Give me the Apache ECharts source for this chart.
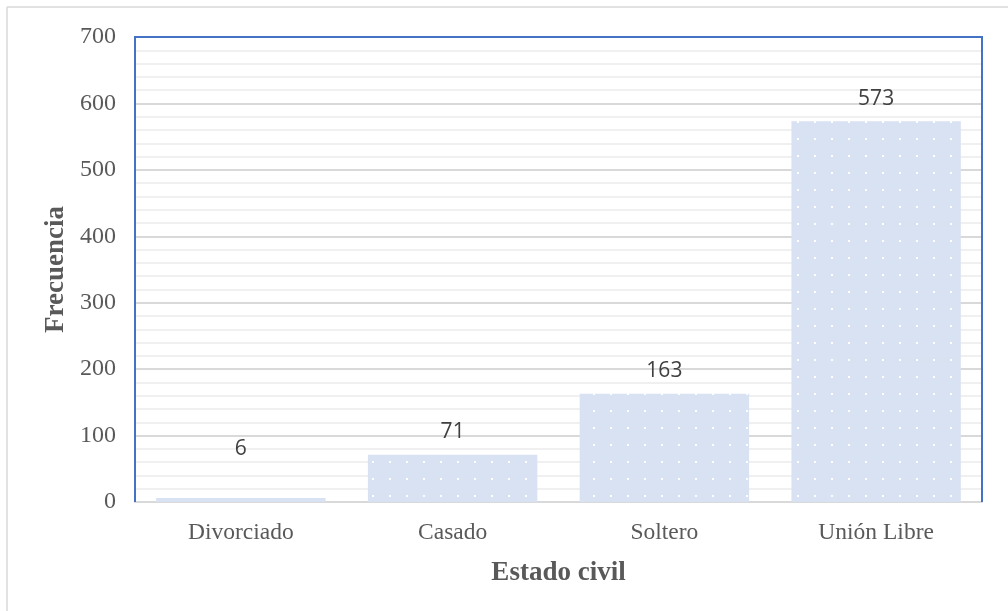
<!DOCTYPE html>
<html>
<head>
<meta charset="utf-8">
<title>Estado civil</title>
<script src="https://cdn.jsdelivr.net/npm/echarts@6/dist/echarts.min.js"></script>
<style>
  html, body { margin: 0; padding: 0; background: #ffffff; }
  #chart { width: 1008px; height: 611px; }
</style>
</head>
<body>
<div id="chart"></div>
<script>
// Frequency by marital status
const categories = ['Divorciado', 'Casado', 'Soltero', 'Unión Libre'];
const frequencies = [6, 71, 163, 573];
const yTicks = [0, 100, 200, 300, 400, 500, 600, 700];

// Dotted fill: light blue tile with a small white square
function dotPattern() {
  const c = document.createElement('canvas');
  c.width = 17; c.height = 17;
  const g = c.getContext('2d');
  g.fillStyle = '#D9E2F3';
  g.fillRect(0, 0, 17, 17);
  g.fillStyle = '#ffffff';
  g.fillRect(15, 2, 2, 2);
  return c;
}
const pattern = { image: dotPattern(), repeat: 'repeat' };

const serif = '"Liberation Serif", "Times New Roman", serif';

// plot area box
const G = { left: 135, right: 26, top: 37, bottom: 109 };
const W = 1008, H = 611;
const px1 = G.left, px2 = W - G.right, py1 = G.top, py2 = H - G.bottom;

const chart = echarts.init(document.getElementById('chart'), null, { renderer: 'canvas' });

const barData = frequencies.map(v => ({
  value: v,
  // a very short bar keeps its label clear of the axis
  label: { distance: v < 20 ? 38 : 12 }
}));

chart.setOption({
  animation: false,
  backgroundColor: '#ffffff',
  grid: { left: G.left, right: G.right, top: G.top, bottom: G.bottom },
  graphic: [
    { type: 'line', shape: { x1: 7, y1: 7, x2: W, y2: 7 }, style: { stroke: '#D9D9D9', lineWidth: 1.5 }, silent: true },
    { type: 'line', shape: { x1: 7, y1: 7, x2: 7, y2: H }, style: { stroke: '#D9D9D9', lineWidth: 1.5 }, silent: true },
    {
      type: 'polyline', z: 100, silent: true,
      shape: { points: [[px1, py2], [px1, py1], [px2, py1], [px2, py2]] },
      style: { stroke: '#4472C4', lineWidth: 2, fill: null }
    }
  ],
  xAxis: {
    type: 'category',
    data: categories,
    name: 'Estado civil',
    nameLocation: 'middle',
    nameGap: 58,
    nameTextStyle: { fontFamily: serif, fontWeight: 'bold', fontSize: 27, color: '#595959' },
    axisLine: { show: true, lineStyle: { color: '#D9D9D9', width: 2 } },
    axisTick: { show: false },
    axisLabel: { fontFamily: serif, fontSize: 23.5, color: '#595959', margin: 19 },
    splitLine: { show: false }
  },
  yAxis: {
    type: 'value',
    min: yTicks[0],
    max: yTicks[yTicks.length - 1],
    interval: 100,
    name: 'Frecuencia',
    nameLocation: 'middle',
    nameRotate: 90,
    nameGap: 61,
    nameTextStyle: { fontFamily: serif, fontWeight: 'bold', fontSize: 27, color: '#595959' },
    axisLine: { show: false },
    axisTick: { show: false },
    axisLabel: { fontFamily: serif, fontSize: 24, color: '#595959', margin: 19 },
    splitLine: { show: true, lineStyle: { color: '#D9D9D9', width: 2 } },
    minorTick: { show: false, splitNumber: 5 },
    minorSplitLine: { show: true, lineStyle: { color: '#F0F0F0', width: 2 } }
  },
  series: [{
    type: 'bar',
    data: barData,
    barCategoryGap: '20%',
    itemStyle: { color: pattern },
    label: {
      show: true,
      position: 'top',
      fontFamily: '"Open Sans", "Liberation Sans", sans-serif',
      fontSize: 21,
      color: '#404040'
    }
  }]
});
</script>
</body>
</html>
